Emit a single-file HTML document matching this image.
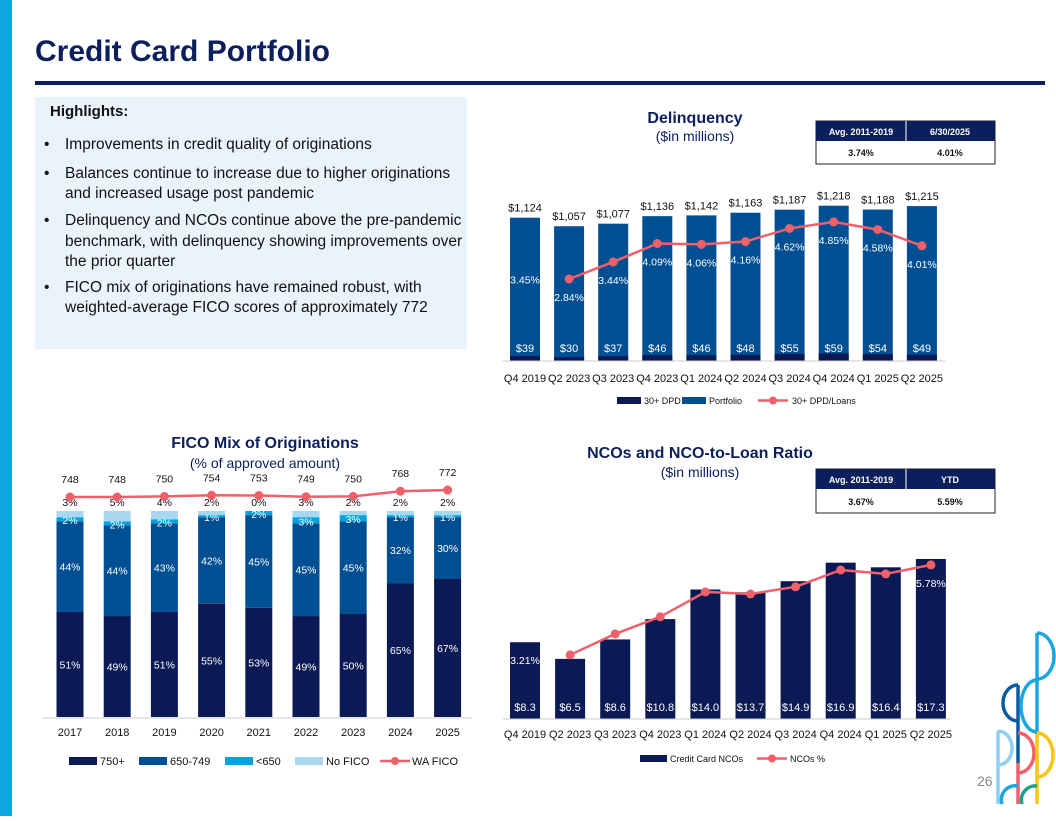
<!DOCTYPE html>
<html><head><meta charset="utf-8"><style>
body{margin:0;width:1056px;height:816px;overflow:hidden;background:#fff;font-family:"Liberation Sans",sans-serif;}
svg text{font-family:"Liberation Sans",sans-serif;}
</style></head><body>
<svg id="s" width="1056" height="816" viewBox="0 0 1056 816" xmlns="http://www.w3.org/2000/svg">
<rect x="0" y="0" width="12" height="816" fill="#0ea5e0"/>
<text x="35" y="61" font-size="30" font-weight="bold" fill="#0b1f5c">Credit Card Portfolio</text>
<rect x="35" y="81" width="1010" height="4" fill="#0b1f5c"/>
<rect x="35" y="97" width="432" height="252" fill="#eaf3fb"/>
<g font-size="15.5" fill="#111">
<text x="50" y="116" font-weight="bold" font-size="15">Highlights:</text>
<text x="44" y="149">•</text><text x="65" y="149">Improvements in credit quality of originations</text>
<text x="44" y="178">•</text><text x="65" y="178">Balances continue to increase due to higher originations</text>
<text x="65" y="198">and increased usage post pandemic</text>
<text x="44" y="225">•</text><text x="65" y="225">Delinquency and NCOs continue above the pre-pandemic</text>
<text x="65" y="246">benchmark, with delinquency showing improvements over</text>
<text x="65" y="266">the prior quarter</text>
<text x="44" y="292">•</text><text x="65" y="292">FICO mix of originations have remained robust, with</text>
<text x="65" y="312">weighted-average FICO scores of approximately 772</text>
</g>
<g text-anchor="middle" fill="#0b1f5c">
<text x="695" y="123" font-size="16" font-weight="bold">Delinquency</text>
<text x="695" y="141" font-size="14">($in millions)</text>
<text x="265" y="448" font-size="16" font-weight="bold">FICO Mix of Originations</text>
<text x="265" y="468" font-size="14">(% of approved amount)</text>
<text x="700" y="458" font-size="16" font-weight="bold">NCOs and NCO-to-Loan Ratio</text>
<text x="700" y="477" font-size="14">($in millions)</text>
</g>
<g font-size="9" font-weight="bold" text-anchor="middle">
<rect x="816" y="121" width="179" height="43" fill="#fff" stroke="#222" stroke-width="1"/>
<rect x="816" y="121" width="179" height="20" fill="#0b1f5c"/>
<line x1="906" y1="121" x2="906" y2="141" stroke="#fff"/>
<text x="861" y="135" fill="#fff">Avg. 2011-2019</text><text x="950" y="135" fill="#fff">6/30/2025</text>
<text x="861" y="156" fill="#111">3.74%</text><text x="950" y="156" fill="#111">4.01%</text>
</g>
<g font-size="9" font-weight="bold" text-anchor="middle">
<rect x="816" y="469" width="179" height="44" fill="#fff" stroke="#222" stroke-width="1"/>
<rect x="816" y="469" width="179" height="20" fill="#0b1f5c"/>
<line x1="906" y1="469" x2="906" y2="489" stroke="#fff"/>
<text x="861" y="483" fill="#fff">Avg. 2011-2019</text><text x="950" y="483" fill="#fff">YTD</text>
<text x="861" y="505" fill="#111">3.67%</text><text x="950" y="505" fill="#111">5.59%</text>
</g>
<g id="dq"></g>
<g id="fico"></g>
<g id="nco"></g>
<g fill="none" stroke-width="3.5">
<line x1="998" y1="731" x2="998" y2="804" stroke="#8fd0f0"/>
<path d="M998 731 A14 17 0 0 1 998 765" stroke="#8fd0f0"/>
<line x1="1018" y1="685" x2="1018" y2="763" stroke="#0b5aa0"/>
<line x1="1018" y1="763" x2="1018" y2="804" stroke="#f0606b"/>
<path d="M1018 685 A15 18 0 0 0 1018 721" stroke="#0b5aa0"/>
<path d="M1018 733 A16 20 0 0 1 1018 773" stroke="#f0606b"/>
<line x1="1037" y1="633" x2="1037" y2="733" stroke="#1aa6de"/>
<line x1="1037" y1="733" x2="1037" y2="804" stroke="#f5c518"/>
<path d="M1037 633 A17 23 0 0 1 1037 679" stroke="#1aa6de"/>
<path d="M1037 680 A16 26 0 0 0 1037 732" stroke="#1aa6de"/>
<path d="M1037 733 A16 22 0 0 1 1037 777" stroke="#f5c518"/>
<path d="M1002 804 A14 14 0 0 1 1018 786" stroke="#1aa6de"/>
<path d="M1022 804 A14 14 0 0 1 1037 786" stroke="#1aa08a"/>
</g>
<text x="977" y="786" font-size="14" fill="#888">26</text>
</svg>
<script>
const NS='http://www.w3.org/2000/svg';
// Delinquency data
const dqCats=['Q4 2019','Q2 2023','Q3 2023','Q4 2023','Q1 2024','Q2 2024','Q3 2024','Q4 2024','Q1 2025','Q2 2025'];
const dqPortfolio=[1124,1057,1077,1136,1142,1163,1187,1218,1188,1215];
const dqDpd=[39,30,37,46,46,48,55,59,54,49];
const dqPct=[3.45,2.84,3.44,4.09,4.06,4.16,4.62,4.85,4.58,4.01];
const dqShowPoint=[false,true,true,true,true,true,true,true,true,true];
// FICO data
const ficoCats=['2017','2018','2019','2020','2021','2022','2023','2024','2025'];
const fico750=[51,49,51,55,53,49,50,65,67];
const fico650=[44,44,43,42,45,45,45,32,30];
const ficoLow=[2,2,2,1,2,3,3,1,1];
const ficoNone=[3,5,4,2,0,3,2,2,2];
const ficoWA=[748,748,750,754,753,749,750,768,772];
// NCO data
const ncoCats=dqCats.slice();
const ncoVals=[8.3,6.5,8.6,10.8,14.0,13.7,14.9,16.9,16.4,17.3];
const ncoPct=[3.21,2.78,3.48,4.05,4.88,4.81,5.05,5.61,5.48,5.78];
const ncoShowPoint=[false,true,true,true,true,true,true,true,true,true];
const ncoPctLabel=[true,false,false,false,false,false,false,false,false,true];

function el(parent,tag,attrs,text){const e=document.createElementNS(NS,tag);for(const k in attrs)e.setAttribute(k,attrs[k]);if(text!==undefined)e.textContent=text;parent.appendChild(e);return e;}
const NAVY='#0b1a55',BLUE='#004f93',CYAN='#00a3e0',LIGHT='#a9d7f2',RED='#f0606b';

// Delinquency chart
(function(){
 const g=document.getElementById('dq');
 const base=361,x0=525,pitch=44.1,bw=30;
 const xs=i=>x0+i*pitch, yv=v=>base-v*0.1275, yp=p=>279-(p-2.84)*28.4;
 dqCats.forEach((c,i)=>{
  const x=xs(i);
  let r=el(g,'rect',{x:x-bw/2,y:yv(dqPortfolio[i]),width:bw,height:base-yv(dqPortfolio[i]),fill:BLUE});
  
  
  let d=el(g,'rect',{x:x-bw/2,y:yv(dqDpd[i]),width:bw,height:base-yv(dqDpd[i]),fill:NAVY});
  
  
  let t=el(g,'text',{x:x,y:yv(dqPortfolio[i])-6,'font-size':11,'text-anchor':'middle',fill:'#111'},'$'+dqPortfolio[i].toLocaleString('en-US'));
  
  
  let t2=el(g,'text',{x:x,y:352,'font-size':11,'text-anchor':'middle',fill:'#fff'},'$'+dqDpd[i]);
  
  
  let t3=el(g,'text',{x:x,y:yp(dqPct[i])+22,'font-size':10.5,'text-anchor':'middle',fill:'#fff'},dqPct[i].toFixed(2)+'%');
  
  
  let t4=el(g,'text',{x:x,y:382,'font-size':11,'text-anchor':'middle',fill:'#111'},c);
  
  
 });
 const ax=el(g,'line',{x1:503,x2:945,y1:base,y2:base,stroke:'#ccc'});
 
 
 const pts=dqCats.map((c,i)=>dqShowPoint[i]?xs(i)+','+yp(dqPct[i]):null).filter(Boolean);
 const pl=el(g,'polyline',{points:pts.join(' '),fill:'none',stroke:RED,'stroke-width':2.5});
 
 
 dqCats.forEach((c,i)=>{if(!dqShowPoint[i])return;
  const p=el(g,'circle',{cx:xs(i),cy:yp(dqPct[i]),r:4.5,fill:RED});
  
  });
 const lg=el(g,'g',{'font-size':9,fill:'#111'});
 
 
 el(lg,'rect',{x:617,y:397,width:24,height:7,fill:NAVY});el(lg,'text',{x:644,y:404},'30+ DPD');
 el(lg,'rect',{x:682,y:397,width:24,height:7,fill:BLUE});el(lg,'text',{x:709,y:404},'Portfolio');
 el(lg,'line',{x1:758,x2:788,y1:400.5,y2:400.5,stroke:RED,'stroke-width':2.5});el(lg,'circle',{cx:773,cy:400.5,r:4,fill:RED});
 el(lg,'text',{x:792,y:404},'30+ DPD/Loans');
})();

// FICO chart
(function(){
 const g=document.getElementById('fico');
 const base=717,H=206,x0=70,pitch=47.2,bw=27;
 const xs=i=>x0+i*pitch, h=v=>v/100*H, yw=v=>497-(v-748)*0.29;
 ficoCats.forEach((c,i)=>{
  const x=xs(i);let y=base;
  const segs=[[fico750[i],NAVY,'fico-750-plus-bar','#fff'],[fico650[i],BLUE,'fico-650-749-bar','#fff'],[ficoLow[i],CYAN,'fico-below-650-bar','#fff'],[ficoNone[i],LIGHT,'no-fico-bar','#111']];
  segs.forEach((s,k)=>{
   const hh=h(s[0]);y-=hh;
   const r=el(g,'rect',{x:x-bw/2,y:y,width:bw,height:hh,fill:s[1]});
   
   
   let ly;
   if(k<2)ly=y+hh/2+4;else if(k==2)ly=y+hh/2+5;else ly=y-5;
   const t=el(g,'text',{x:x,y:ly,'font-size':10.5,'text-anchor':'middle',fill:s[3]},s[0]+'%');
   
   
  });
  const t=el(g,'text',{x:x,y:yw(ficoWA[i])-14,'font-size':10.5,'text-anchor':'middle',fill:'#111'},ficoWA[i]);
  
  
  const t4=el(g,'text',{x:x,y:736,'font-size':11,'text-anchor':'middle',fill:'#111'},c);
  
  
 });
 const ax=el(g,'line',{x1:42,x2:472,y1:base+1,y2:base+1,stroke:'#ccc'});
 
 
 const pl=el(g,'polyline',{points:ficoCats.map((c,i)=>xs(i)+','+yw(ficoWA[i])).join(' '),fill:'none',stroke:RED,'stroke-width':2.5});
 
 
 ficoCats.forEach((c,i)=>{const p=el(g,'circle',{cx:xs(i),cy:yw(ficoWA[i]),r:4.5,fill:RED});
  
  });
 const lg=el(g,'g',{'font-size':11,fill:'#111'});
 
 
 el(lg,'rect',{x:69,y:757,width:28,height:8,fill:NAVY});el(lg,'text',{x:100,y:765},'750+');
 el(lg,'rect',{x:139,y:757,width:28,height:8,fill:BLUE});el(lg,'text',{x:170,y:765},'650-749');
 el(lg,'rect',{x:225,y:757,width:28,height:8,fill:CYAN});el(lg,'text',{x:256,y:765},'<650');
 el(lg,'rect',{x:295,y:757,width:28,height:8,fill:LIGHT});el(lg,'text',{x:326,y:765},'No FICO');
 el(lg,'line',{x1:380,x2:410,y1:761,y2:761,stroke:RED,'stroke-width':2.5});el(lg,'circle',{cx:395,cy:761,r:4,fill:RED});
 el(lg,'text',{x:412,y:765},'WA FICO');
})();

// NCO chart
(function(){
 const g=document.getElementById('nco');
 const base=719,x0=525,pitch=45.1,bw=30;
 const xs=i=>x0+i*pitch, yv=v=>base-v*9.25, yp=p=>642-(p-3.21)*30;
 ncoCats.forEach((c,i)=>{
  const x=xs(i);
  const r=el(g,'rect',{x:x-bw/2,y:yv(ncoVals[i]),width:bw,height:base-yv(ncoVals[i]),fill:NAVY});
  
  
  const t=el(g,'text',{x:x,y:711,'font-size':11,'text-anchor':'middle',fill:'#fff'},'$'+ncoVals[i].toFixed(1));
  
  
  if(ncoPctLabel[i]){const t3=el(g,'text',{x:x,y:yp(ncoPct[i])+22,'font-size':10.5,'text-anchor':'middle',fill:'#fff'},ncoPct[i].toFixed(2)+'%');
   
   }
  const t4=el(g,'text',{x:x,y:738,'font-size':11,'text-anchor':'middle',fill:'#111'},c);
  
  
 });
 const ax=el(g,'line',{x1:503,x2:950,y1:base,y2:base,stroke:'#ccc'});
 
 
 const pts=ncoCats.map((c,i)=>ncoShowPoint[i]?xs(i)+','+yp(ncoPct[i]):null).filter(Boolean);
 const pl=el(g,'polyline',{points:pts.join(' '),fill:'none',stroke:RED,'stroke-width':2.5});
 
 
 ncoCats.forEach((c,i)=>{if(!ncoShowPoint[i])return;
  const p=el(g,'circle',{cx:xs(i),cy:yp(ncoPct[i]),r:4.5,fill:RED});
  
  });
 const lg=el(g,'g',{'font-size':9,fill:'#111'});
 
 
 el(lg,'rect',{x:640,y:755,width:27,height:7,fill:NAVY});el(lg,'text',{x:670,y:762},'Credit Card NCOs');
 el(lg,'line',{x1:757,x2:787,y1:758.5,y2:758.5,stroke:RED,'stroke-width':2.5});el(lg,'circle',{cx:772,cy:758.5,r:4,fill:RED});
 el(lg,'text',{x:790,y:762},'NCOs %');
})();
</script>
</body></html>
